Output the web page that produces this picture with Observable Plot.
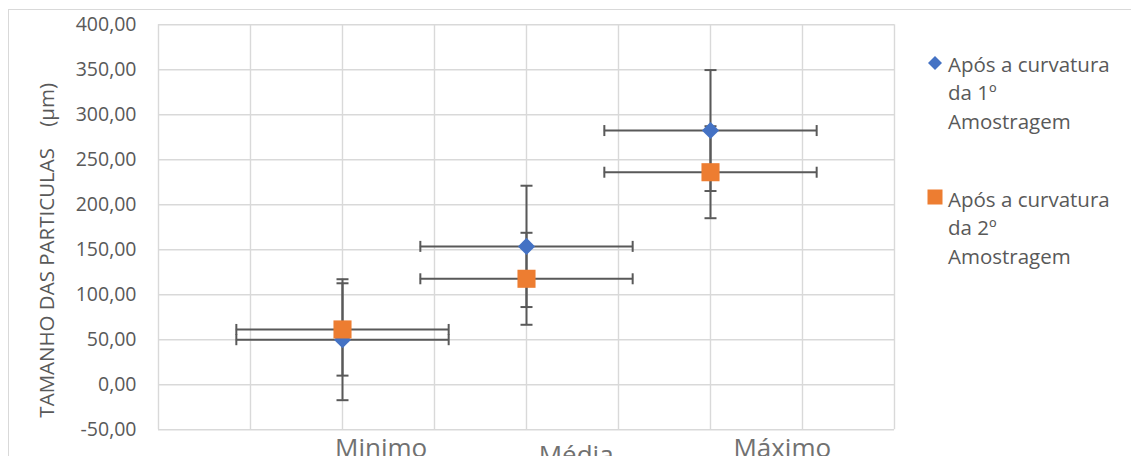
<!DOCTYPE html>
<html>
<head>
<meta charset="utf-8">
<script src="https://cdn.jsdelivr.net/npm/d3@7"></script>
<script src="https://cdn.jsdelivr.net/npm/@observablehq/plot@0.6"></script>
<style>
  html, body { margin: 0; padding: 0; background: #fff; }
  #wrap { position: relative; width: 1131px; height: 456px; overflow: hidden; font-family: "Open Sans", sans-serif; }
  #border { position: absolute; left: 8px; top: 9px; width: 1200px; height: 600px; border-left: 1.5px solid #d9d9d9; border-top: 1.5px solid #d9d9d9; }
  #legend { position: absolute; left: 927px; top: 0; color: #595959; font-size: 20.5px; line-height: 28.5px; }
  .entry { position: absolute; left: 0; white-space: nowrap; }
  .entry svg { position: absolute; left: 0; }
  .entry .txt { position: absolute; left: 21px; }
</style>
</head>
<body>
<div id="wrap">
  <div id="border"></div>
  <div id="chart" style="position:absolute;left:0;top:0;"></div>
  <div id="legend"></div>
</div>
<script>
// ---- data ----
const categories = ["Minimo", "Média", "Máximo"];
const xPos = [1, 2, 3];
const labelX = [1.21, 2.27, 3.39];
const seriesNames = ["Após a curvatura da 1º Amostragem", "Após a curvatura da 2º Amostragem"];
const serie1 = [50.1, 153.8, 282.5];
const serie2 = [61.5, 117.8, 236.2];
const erroY1 = [67.2, 67.4, 67.2];
const erroY2 = [51.3, 51.1, 51.1];
const erroX1 = [0.577, 0.577, 0.577];
const erroX2 = [0.577, 0.577, 0.577];
const yTicks = [-50, 0, 50, 100, 150, 200, 250, 300, 350, 400];
const xGrid = [0, 0.5, 1, 1.5, 2, 2.5, 3, 3.5, 4];
const yLabel = "TAMANHO DAS PARTICULAS\u00a0\u00a0\u00a0\u00a0(µm)";
const colors = ["#4472C4", "#ED7D31"];

const rows1 = xPos.map((x, i) => ({x, y: serie1[i], ey: erroY1[i], ex: erroX1[i]}));
const rows2 = xPos.map((x, i) => ({x, y: serie2[i], ey: erroY2[i], ex: erroX2[i]}));
const labels = categories.map((c, i) => ({c, x: labelX[i]}));

const hCap = {draw(ctx, size) { const r = Math.sqrt(size / Math.PI); ctx.moveTo(-r, 0); ctx.lineTo(r, 0); }};
const vCap = {draw(ctx, size) { const r = Math.sqrt(size / Math.PI); ctx.moveTo(0, -r); ctx.lineTo(0, r); }};

const errStroke = "#595959";
function errorMarks(rows) {
  return [
    Plot.ruleX(rows, {x: "x", y1: d => d.y - d.ey, y2: d => d.y + d.ey, stroke: errStroke, strokeWidth: 2}),
    Plot.ruleY(rows, {y: "y", x1: d => d.x - d.ex, x2: d => d.x + d.ex, stroke: errStroke, strokeWidth: 2}),
    Plot.dot(rows, {x: "x", y: d => d.y + d.ey, symbol: hCap, r: 6, fill: "none", stroke: errStroke, strokeWidth: 2}),
    Plot.dot(rows, {x: "x", y: d => d.y - d.ey, symbol: hCap, r: 6, fill: "none", stroke: errStroke, strokeWidth: 2}),
    Plot.dot(rows, {x: d => d.x - d.ex, y: "y", symbol: vCap, r: 5.5, fill: "none", stroke: errStroke, strokeWidth: 2}),
    Plot.dot(rows, {x: d => d.x + d.ex, y: "y", symbol: vCap, r: 5.5, fill: "none", stroke: errStroke, strokeWidth: 2})
  ];
}

const fmt = d => d.toFixed(2).replace(".", ",");

const chart = Plot.plot({
  width: 1131,
  height: 456,
  marginLeft: 158,
  marginRight: 237,
  marginTop: 24.3,
  marginBottom: 26.7,
  style: {fontFamily: "Open Sans, sans-serif", fontSize: "19.5px", color: "#595959", background: "transparent", overflow: "visible"},
  x: {domain: [0, 4], axis: null},
  y: {domain: [-50, 400], ticks: yTicks, tickFormat: fmt, tickSize: 0, tickPadding: 22, label: null},
  marks: [
    Plot.gridY(yTicks, {stroke: "#d9d9d9", strokeOpacity: 1, strokeWidth: 1.4}),
    Plot.gridX(xGrid, {stroke: "#d9d9d9", strokeOpacity: 1, strokeWidth: 1.4}),
    ...errorMarks(rows1),
    ...errorMarks(rows2),
    Plot.dot(rows1, {x: "x", y: "y", symbol: "diamond2", r: 7.7, fill: colors[0], stroke: null}),
    Plot.dot(rows2, {x: "x", y: "y", symbol: "square", r: 10.2, fill: colors[1], stroke: null}),
    Plot.text(labels.filter(d => d.c !== "Média"), {x: "x", text: "c", frameAnchor: "bottom", lineAnchor: "top", dy: 8.5, fontSize: 26, fill: "#717171"}),
    Plot.text(labels.filter(d => d.c === "Média"), {x: "x", text: "c", frameAnchor: "bottom", lineAnchor: "top", dy: 15.5, fontSize: 26, fill: "#717171"}),
    Plot.text([yLabel], {text: d => d, frameAnchor: "left", textAnchor: "middle", lineAnchor: "middle", rotate: -90, dx: -111, dy: 23, fontSize: 20.5, fill: "#595959"})
  ]
});
document.getElementById("chart").appendChild(chart);

// ---- legend ----
const legend = document.getElementById("legend");
const entryTops = [49.7, 184.7];
const symbolCenters = [62.7, 197.5];
seriesNames.forEach((name, i) => {
  const e = document.createElement("div");
  e.className = "entry";
  e.style.top = entryTops[i] + "px";
  const sym = i === 0
    ? `<svg width="16" height="16" style="top:${symbolCenters[i] - entryTops[i] - 8}px"><path d="M8,1 L15,8 L8,15 L1,8Z" fill="${colors[0]}"/></svg>`
    : `<svg width="16" height="16" style="top:${symbolCenters[i] - entryTops[i] - 8}px"><rect x="0.5" y="0.5" width="15" height="15" fill="${colors[1]}"/></svg>`;
  const parts = name.replace(" da ", "|da ").replace(" Amostragem", "|Amostragem").split("|");
  e.innerHTML = sym + `<div class="txt">${parts.join("<br>")}</div>`;
  legend.appendChild(e);
});
</script>
</body>
</html>
